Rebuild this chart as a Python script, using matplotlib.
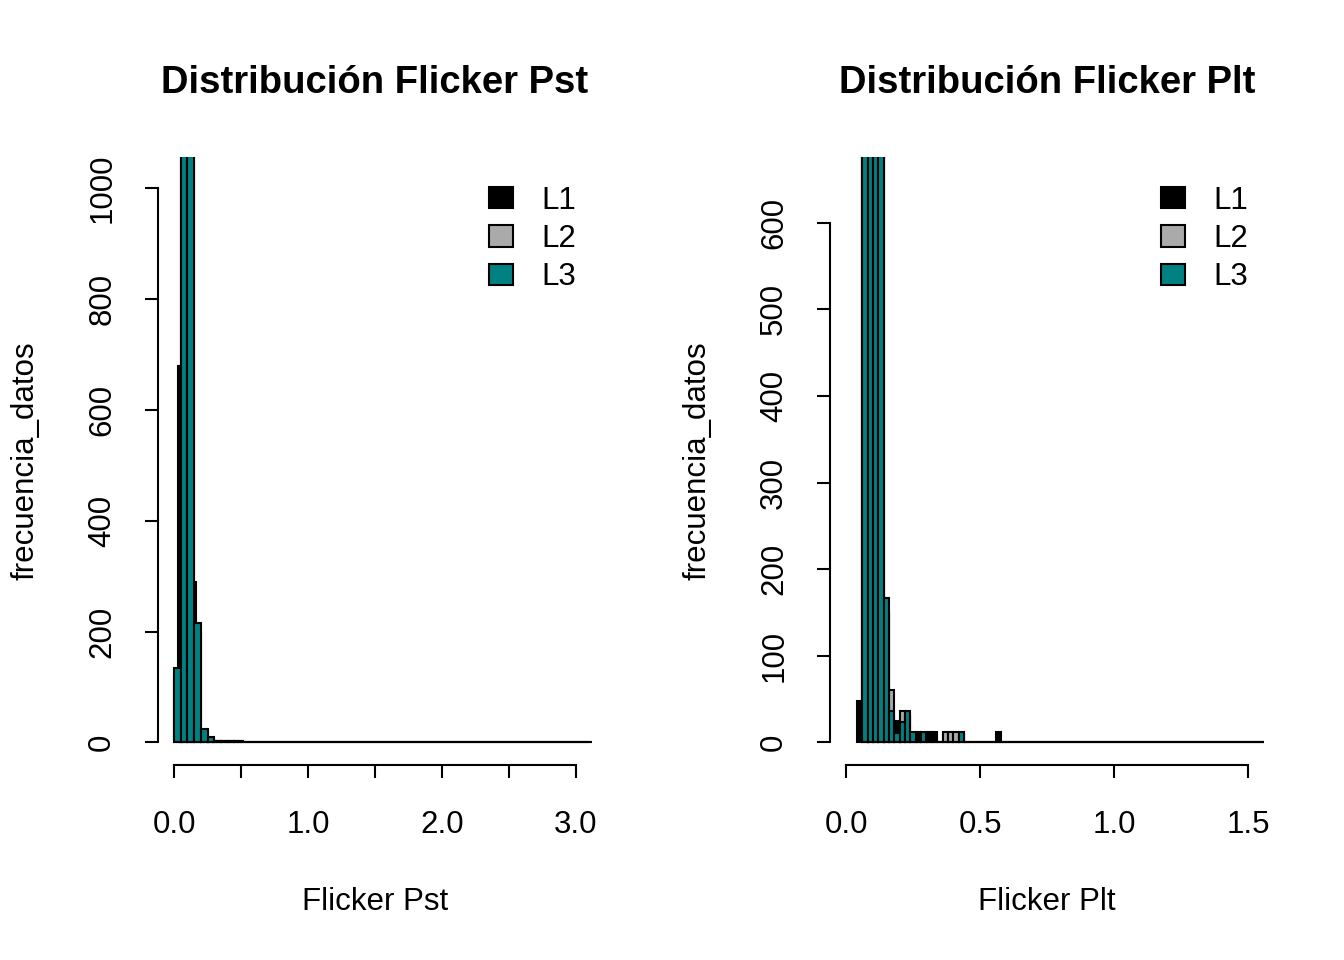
import matplotlib
matplotlib.use("Agg")
import matplotlib.pyplot as plt
import numpy as np
from matplotlib.patches import Patch

plt.rcParams['font.family'] = ['Liberation Sans', 'DejaVu Sans']

series_names = ["L1", "L2", "L3"]
series_colors = ["black", "#AAAAAA", "#008080"]

# Flicker Pst: bin edges and counts per phase
pst_l1_edges = [0.032, 0.064, 0.096, 0.128, 0.160, 0.192, 0.224, 0.256, 0.288,
                0.320, 0.352, 0.384, 0.416, 0.448, 0.480, 0.512, 3.10]
pst_l1_counts = [680, 1500, 1300, 290, 150, 20, 8, 4, 2, 2, 2, 2, 2, 2, 2, 0]
pst_l2_edges = [0.00, 0.05, 0.10, 0.15, 0.20, 0.25, 0.30, 0.35, 0.40, 0.45, 0.50, 3.15]
pst_l2_counts = [120, 1450, 1350, 200, 20, 7, 2, 1, 1, 1, 0]
pst_l3_edges = [0.00, 0.05, 0.10, 0.15, 0.20, 0.25, 0.30, 0.35, 0.40, 0.45, 0.50, 3.15]
pst_l3_counts = [135, 1500, 1400, 215, 25, 9, 3, 2, 2, 2, 0]

# Flicker Plt
plt_l1_edges = [0.04, 0.06, 0.08, 0.10, 0.12, 0.14, 0.16, 0.18, 0.20, 0.22, 0.24,
                0.26, 0.28, 0.30, 0.32, 0.34, 0.36, 0.38, 0.40, 0.42, 0.44, 0.46,
                0.48, 0.50, 0.52, 0.54, 0.56, 0.58, 1.60]
plt_l1_counts = [48, 900, 900, 900, 800, 150, 30, 25, 20, 30, 10,
                 12, 0, 12, 12, 0, 10, 10, 10, 10, 0, 0,
                 0, 0, 0, 0, 12, 0]
plt_l2_edges = [0.06, 0.08, 0.10, 0.12, 0.14, 0.16, 0.18, 0.20, 0.22, 0.24, 0.26,
                0.28, 0.30, 0.32, 0.34, 0.36, 0.38, 0.40, 0.42, 0.44, 1.60]
plt_l2_counts = [850, 850, 850, 850, 150, 61, 10, 36, 30, 10, 0,
                 10, 0, 0, 0, 12, 12, 12, 10, 0]
plt_l3_edges = [0.06, 0.08, 0.10, 0.12, 0.14, 0.16, 0.18, 0.20, 0.22, 0.24, 0.26,
                0.28, 0.30, 0.32, 0.34, 0.36, 0.38, 0.40, 0.42, 0.44, 1.60]
plt_l3_counts = [1200, 1200, 1200, 1200, 167, 36, 11, 24, 36, 12, 0,
                 12, 0, 0, 0, 0, 0, 0, 12, 0]

W, H = 1344, 960
LW = 1.5


def add_panel(fig, left, top, right, bottom):
    return fig.add_axes([left / W, 1 - bottom / H, (right - left) / W, (bottom - top) / H])


def draw_hist(ax, edges, counts, color):
    edges = np.asarray(edges)
    ax.bar(edges[:-1], counts, width=np.diff(edges), align='edge',
           color=color, edgecolor='black', linewidth=LW)


def style_panel(ax, title, xlabel, xmax, ymax, xticks, xticklabels, yticks):
    xpad = 0.04 * xmax
    ypad = 0.04 * ymax
    ax.set_xlim(-xpad, xmax + xpad)
    ax.set_ylim(-ypad, ymax + ypad)
    for side in ['top', 'right']:
        ax.spines[side].set_visible(False)
    ax.spines['left'].set_bounds(yticks[0], yticks[-1])
    ax.spines['bottom'].set_bounds(xticks[0], xticks[-1])
    ax.spines['left'].set_linewidth(LW)
    ax.spines['bottom'].set_linewidth(LW)
    ax.set_xticks(xticks)
    ax.set_xticklabels(xticklabels)
    ax.set_yticks(yticks)
    ax.set_yticklabels([str(v) for v in yticks], rotation=90, va='center')
    ax.tick_params(axis='both', length=9.4, width=LW, labelsize=22.5)
    ax.tick_params(axis='x', pad=23)
    ax.tick_params(axis='y', pad=20)
    ax.set_xlabel(xlabel, fontsize=22.5)
    ax.set_ylabel("frecuencia_datos", fontsize=22.5)
    ax.xaxis.set_label_coords(0.5, -0.2)
    ax.yaxis.set_label_coords(-0.27, 0.5)
    ax.text(0.5, 1.105, title, transform=ax.transAxes, ha='center', va='baseline',
            fontsize=27.5, fontweight='bold')
    handles = [Patch(facecolor=c, edgecolor='black', linewidth=LW, label=n)
               for n, c in zip(series_names, series_colors)]
    ax.legend(handles=handles, loc='upper left', bbox_to_anchor=(0.7627, 0.953),
              frameon=False, fontsize=22.5, handlelength=0.77, handleheight=0.67,
              handletextpad=0.9, labelspacing=0.27, borderpad=0, borderaxespad=0)


fig = plt.figure(figsize=(13.44, 9.6), dpi=100)

ax1 = add_panel(fig, 158, 157, 592, 765)
draw_hist(ax1, pst_l1_edges, pst_l1_counts, series_colors[0])
draw_hist(ax1, pst_l2_edges, pst_l2_counts, series_colors[1])
draw_hist(ax1, pst_l3_edges, pst_l3_counts, series_colors[2])
style_panel(ax1, "Distribución Flicker Pst", "Flicker Pst", 3.0, 1016,
            [0, 0.5, 1.0, 1.5, 2.0, 2.5, 3.0],
            ["0.0", "", "1.0", "", "2.0", "", "3.0"],
            [0, 200, 400, 600, 800, 1000])

ax2 = add_panel(fig, 830, 157, 1264, 765)
draw_hist(ax2, plt_l1_edges, plt_l1_counts, series_colors[0])
draw_hist(ax2, plt_l2_edges, plt_l2_counts, series_colors[1])
draw_hist(ax2, plt_l3_edges, plt_l3_counts, series_colors[2])
style_panel(ax2, "Distribución Flicker Plt", "Flicker Plt", 1.5, 650,
            [0, 0.5, 1.0, 1.5],
            ["0.0", "0.5", "1.0", "1.5"],
            [0, 100, 200, 300, 400, 500, 600])

fig.savefig("out.png", dpi=100)
